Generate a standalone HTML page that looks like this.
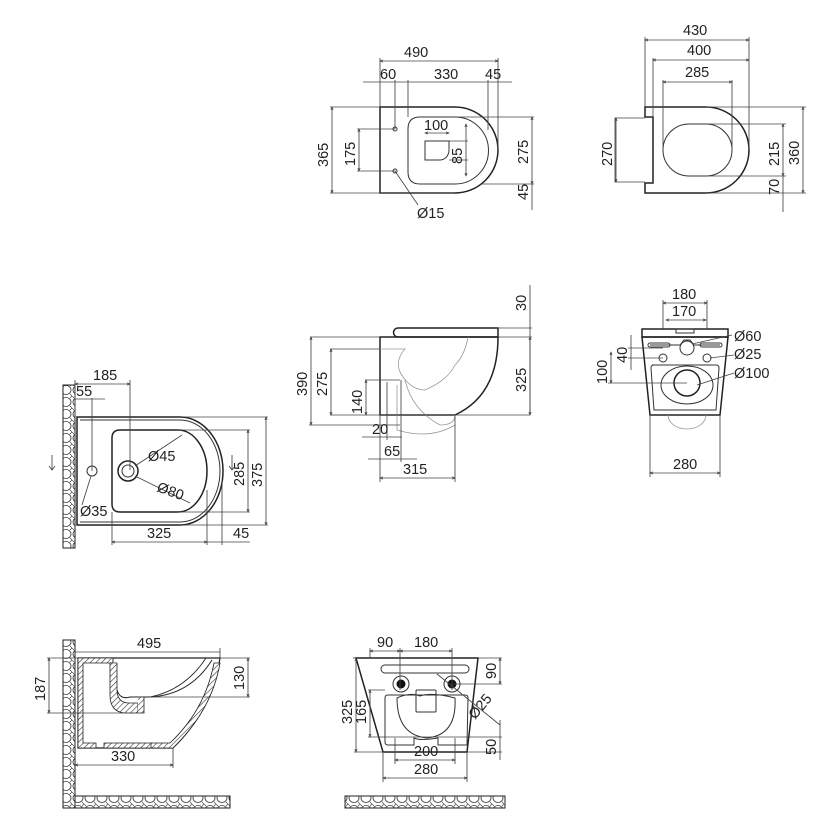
<!DOCTYPE html>
<html><head><meta charset="utf-8"><style>
html,body{margin:0;padding:0;background:#fff}
svg{display:block}
text{font-family:"Liberation Sans",sans-serif;font-size:14.5px;fill:#222}
.o{fill:none;stroke:#222;stroke-width:1.5}
.t{fill:none;stroke:#333;stroke-width:1}
.d{fill:none;stroke:#444;stroke-width:0.85}
.a{fill:none;stroke:#444;stroke-width:0.85;marker-start:url(#m);marker-end:url(#m)}
.g{fill:none;stroke:#999;stroke-width:0.8}
</style></head><body>
<svg width="833" height="837" viewBox="0 0 833 837" xmlns="http://www.w3.org/2000/svg">
<defs>
<marker id="m" viewBox="0 0 10 10" refX="5" refY="5" markerWidth="7" markerHeight="7" orient="auto-start-reverse"><path d="M0,3 L5,5 L0,7" fill="none" stroke="#333" stroke-width="1"/></marker>
<pattern id="h" width="12" height="12" patternUnits="userSpaceOnUse"><rect width="12" height="12" fill="#fff"/><ellipse cx="6" cy="6" rx="5" ry="4.5" fill="none" stroke="#333" stroke-width="0.8"/><path d="M0,0 L2,2 M12,12 L10,10 M12,0 L10,2" stroke="#333" stroke-width="0.6"/></pattern>
<pattern id="s" width="4" height="4" patternUnits="userSpaceOnUse" patternTransform="rotate(45)"><rect width="4" height="4" fill="#fff"/><line x1="0" y1="0" x2="0" y2="4" stroke="#333" stroke-width="1.2"/></pattern>
</defs>

<!-- ===== View 1: top plan ===== -->
<path class="o" d="M380,107 H455 A43,43 0 0 1 455,193 H380 Z"/>
<path class="t" d="M420,117 H455 A33.5,33.5 0 0 1 455,184 H420 Q408,184 408,172 V129 Q408,117 420,117 Z"/>
<path class="t" d="M425,141 H449 V150 A9,10 0 0 1 440,160 H425 Z"/>
<circle class="t" cx="395" cy="129" r="2"/><circle class="t" cx="395" cy="171" r="2"/>
<line class="d" x1="380" y1="58" x2="380" y2="107"/><line class="d" x1="498" y1="58" x2="498" y2="150"/>
<line class="a" x1="380" y1="61" x2="498" y2="61"/><text x="404" y="57">490</text>
<line class="d" x1="395" y1="80" x2="395" y2="129"/><line class="d" x1="408" y1="80" x2="408" y2="117"/><line class="d" x1="488" y1="80" x2="488" y2="130"/>
<line class="d" x1="363" y1="82" x2="512" y2="82"/><text x="380" y="79">60</text><text x="434" y="79">330</text><text x="485" y="79">45</text>
<line class="d" x1="330" y1="107" x2="380" y2="107"/><line class="d" x1="330" y1="193" x2="455" y2="193"/>
<line class="a" x1="332" y1="107" x2="332" y2="193"/><text transform="translate(328,167) rotate(-90)">365</text>
<line class="d" x1="357" y1="129" x2="395" y2="129"/><line class="d" x1="357" y1="171" x2="395" y2="171"/>
<line class="a" x1="359" y1="129" x2="359" y2="171"/><text transform="translate(355,166) rotate(-90)">175</text>
<line class="a" x1="425" y1="133" x2="449" y2="133"/><text x="424" y="130">100</text>
<line class="d" x1="449" y1="141" x2="468" y2="141"/><line class="d" x1="449" y1="160" x2="468" y2="160"/>
<line class="a" x1="466" y1="124" x2="466" y2="176"/><text transform="translate(462,164) rotate(-90)">85</text>
<line class="d" x1="455" y1="117" x2="534" y2="117"/><line class="d" x1="480" y1="184" x2="534" y2="184"/>
<line class="a" x1="532" y1="117" x2="532" y2="184"/><line class="d" x1="532" y1="184" x2="532" y2="210"/>
<text transform="translate(528,164) rotate(-90)">275</text><text transform="translate(528,200) rotate(-90)">45</text>
<line class="d" x1="395" y1="171" x2="418" y2="205"/><text x="417" y="218">Ø15</text>

<!-- ===== View 2: top plan right ===== -->
<path class="o" d="M645,107 H706 A43,43 0 0 1 706,193 H645 V183 H653 V117 H645 Z"/>
<rect class="t" x="663" y="124" width="69" height="52" rx="26" ry="26"/>
<line class="d" x1="645" y1="37" x2="645" y2="107"/><line class="d" x1="749" y1="37" x2="749" y2="150"/>
<line class="a" x1="645" y1="40" x2="749" y2="40"/><text x="683" y="35">430</text>
<line class="d" x1="653" y1="58" x2="653" y2="117"/>
<line class="a" x1="653" y1="60" x2="749" y2="60"/><text x="687" y="55">400</text>
<line class="d" x1="663" y1="80" x2="663" y2="150"/><line class="d" x1="732" y1="80" x2="732" y2="150"/>
<line class="a" x1="663" y1="82" x2="732" y2="82"/><text x="685" y="77">285</text>
<path class="d" d="M645,118 H615 V182 H645"/>
<line class="a" x1="616" y1="118" x2="616" y2="182"/><text transform="translate(612,166) rotate(-90)">270</text>
<line class="d" x1="706" y1="124" x2="786" y2="124"/><line class="d" x1="706" y1="176" x2="786" y2="176"/>
<line class="d" x1="706" y1="107" x2="806" y2="107"/><line class="d" x1="706" y1="193" x2="806" y2="193"/>
<line class="a" x1="783" y1="124" x2="783" y2="176"/><line class="d" x1="783" y1="176" x2="783" y2="212"/>
<text transform="translate(779,166) rotate(-90)">215</text><text transform="translate(779,195) rotate(-90)">70</text>
<line class="a" x1="803" y1="107" x2="803" y2="193"/><text transform="translate(799,165) rotate(-90)">360</text>

<!-- ===== View 3: side ===== -->
<path class="o" d="M398,328 H498 V337 H398 A4.5,4.5 0 0 1 398,328 Z"/>
<path class="o" d="M380,337 H498 Q498,395 455,415 H380 Z"/>
<path class="g" d="M380,349 H405 Q395,360 400,372 Q410,390 425,390 Q448,380 455,365 Q465,355 468,337"/>
<path class="g" d="M405,380 Q412,410 440,425 Q455,425 455,415 M397,385 V430 Q430,440 455,425"/>
<line class="d" x1="498" y1="328" x2="532" y2="328"/><line class="d" x1="498" y1="337" x2="532" y2="337"/>
<line class="d" x1="530" y1="285" x2="530" y2="415"/><text transform="translate(526,311) rotate(-90)">30</text>
<line class="a" x1="530" y1="337" x2="530" y2="415"/><text transform="translate(526,392) rotate(-90)">325</text>
<line class="d" x1="310" y1="337" x2="380" y2="337"/><line class="d" x1="309" y1="425" x2="400" y2="425"/>
<line class="a" x1="311" y1="337" x2="311" y2="425"/><text transform="translate(307,396) rotate(-90)">390</text>
<line class="d" x1="330" y1="349" x2="380" y2="349"/><line class="d" x1="330" y1="415" x2="530" y2="415"/>
<line class="a" x1="331" y1="349" x2="331" y2="415"/><text transform="translate(327,396) rotate(-90)">275</text>
<line class="d" x1="365" y1="380" x2="400" y2="380"/>
<line class="a" x1="366" y1="380" x2="366" y2="415"/><text transform="translate(362,414) rotate(-90)">140</text>
<line class="d" x1="380" y1="415" x2="380" y2="482"/><line class="d" x1="387" y1="382" x2="387" y2="440"/><line class="d" x1="401" y1="380" x2="401" y2="462"/><line class="d" x1="455" y1="415" x2="455" y2="482"/>
<line class="d" x1="362" y1="437" x2="402" y2="437"/><text x="372" y="434">20</text>
<line class="d" x1="368" y1="459" x2="417" y2="459"/><text x="384" y="456">65</text>
<line class="a" x1="380" y1="478" x2="455" y2="478"/><text x="403" y="474">315</text>

<!-- ===== View 4: front ===== -->
<path class="o" d="M642,329 H728 V337 H642 Z"/>
<rect class="t" x="676" y="329" width="18" height="4"/>
<path class="o" d="M642,337 H728 L720,415 H650 Z"/>
<path class="t" d="M650,345 H680 L684,340 H690 L694,345 H720"/>
<rect class="t" x="648" y="343" width="22" height="4" rx="2"/><rect class="t" x="700" y="343" width="22" height="4" rx="2"/>
<circle class="t" cx="687" cy="348" r="7"/>
<circle class="t" cx="663" cy="358" r="4"/><circle class="t" cx="707" cy="358" r="4"/>
<path class="t" d="M652,365 H716 Q719,365 719,368 L716,410 H654 L651,368 Q651,365 654,365 Z"/>
<ellipse class="t" cx="687" cy="385" rx="26" ry="19"/>
<circle class="o" cx="687" cy="383" r="13" stroke-width="2.5"/>
<path class="g" d="M668,415 A19,14 0 0 0 706,415"/>
<line class="d" x1="663" y1="300" x2="663" y2="330"/><line class="d" x1="707" y1="300" x2="707" y2="330"/>
<line class="a" x1="663" y1="303" x2="707" y2="303"/><text x="672" y="299">180</text>
<line class="a" x1="666" y1="320" x2="706" y2="320"/><text x="672" y="316">170</text>
<line class="d" x1="692" y1="344" x2="732" y2="335"/><text x="734" y="341">Ø60</text>
<line class="d" x1="710" y1="358" x2="734" y2="355"/><text x="734" y="359">Ø25</text>
<line class="d" x1="697" y1="385" x2="734" y2="373"/><text x="734" y="378">Ø100</text>
<line class="d" x1="628" y1="348" x2="663" y2="348"/><line class="d" x1="628" y1="358" x2="663" y2="358"/><line class="d" x1="608" y1="383" x2="687" y2="383"/>
<line class="d" x1="631" y1="335" x2="631" y2="370"/><text transform="translate(627,363) rotate(-90)">40</text>
<line class="a" x1="611" y1="352" x2="611" y2="383"/><text transform="translate(607,384) rotate(-90)">100</text>
<line class="d" x1="650" y1="415" x2="650" y2="477"/><line class="d" x1="720" y1="415" x2="720" y2="477"/>
<line class="a" x1="650" y1="473" x2="720" y2="473"/><text x="673" y="469">280</text>

<!-- ===== View 5: bidet plan ===== -->
<rect x="63" y="385" width="12" height="163" fill="url(#h)" stroke="#222" stroke-width="1"/>
<path class="o" d="M77,417 H180 A43,54 0 0 1 180,525 H77 Z"/>
<path class="t" d="M80,420 H180 A40,51 0 0 1 180,522 H80"/>
<path class="o" d="M120,430 H178 A29,41 0 0 1 178,512 H120 Q112,512 112,504 V438 Q112,430 120,430 Z"/>
<circle class="o" cx="128" cy="471" r="10"/><circle class="t" cx="128" cy="471" r="6"/>
<circle class="t" cx="92" cy="471" r="5"/>
<line class="d" x1="75" y1="380" x2="75" y2="417"/><line class="d" x1="130" y1="380" x2="130" y2="470"/>
<line class="a" x1="75" y1="384" x2="130" y2="384"/><text x="93" y="380">185</text>
<line class="d" x1="92" y1="398" x2="92" y2="471"/>
<line class="d" x1="75" y1="399" x2="105" y2="399"/><text x="76" y="396">55</text>
<path class="d" d="M52,455 V470 M49,466 L52,470 L55,466 M232,455 V470 M229,466 L232,470 L235,466"/>
<line class="d" x1="135" y1="466" x2="182" y2="435"/><text x="148" y="461">Ø45</text>
<line class="d" x1="135" y1="476" x2="190" y2="503"/><text x="156" y="491" transform="rotate(20,156,491)">Ø80</text>
<line class="d" x1="91" y1="476" x2="82" y2="505"/><text x="80" y="516">Ø35</text>
<line class="d" x1="180" y1="417" x2="268" y2="417"/><line class="d" x1="180" y1="525" x2="268" y2="525"/>
<line class="a" x1="266" y1="417" x2="266" y2="525"/><text transform="translate(262,487) rotate(-90)">375</text>
<line class="d" x1="178" y1="430" x2="250" y2="430"/><line class="d" x1="178" y1="512" x2="250" y2="512"/>
<line class="a" x1="248" y1="430" x2="248" y2="512"/><text transform="translate(244,486) rotate(-90)">285</text>
<line class="d" x1="112" y1="512" x2="112" y2="545"/><line class="d" x1="207" y1="490" x2="207" y2="545"/><line class="d" x1="222" y1="480" x2="222" y2="545"/>
<line class="a" x1="112" y1="542" x2="207" y2="542"/><text x="147" y="538">325</text>
<line class="d" x1="207" y1="542" x2="250" y2="542"/><text x="233" y="538">45</text>

<!-- ===== View 6: bidet side section ===== -->
<rect x="63" y="640" width="12" height="168" fill="url(#h)" stroke="#222" stroke-width="1"/>
<rect x="75" y="796" width="155" height="12" fill="url(#h)" stroke="#222" stroke-width="1"/>
<path d="M78,658 H220 Q212,710 173,748 H78 Z" fill="none" stroke="#222" stroke-width="1.2"/>
<path d="M78,658 H113 V663 H83 V743 H96 V748 H78 Z" fill="url(#s)" stroke="#222" stroke-width="0.8"/>
<path d="M104,743 H152 V748 H104 Z" fill="url(#s)" stroke="#222" stroke-width="0.8"/>
<path d="M151,743 H170 Q205,710 214,663 H220 Q212,710 173,748 H151 Z" fill="url(#s)" stroke="#222" stroke-width="0.8"/>
<path d="M113,658 V663 H110 V695 Q110,712 125,713 H138 V703 H128 Q117,702 117,690 V663 H114" fill="url(#s)" stroke="#222" stroke-width="0.8"/>
<path d="M117,690 Q120,700 130,697 H150 Q190,695 212,660" fill="none" stroke="#222" stroke-width="1"/>
<path d="M150,697 Q185,690 206,658" fill="none" stroke="#222" stroke-width="0.8"/>
<path d="M138,697 H144 V713 H138" fill="url(#s)" stroke="#222" stroke-width="0.8"/>
<line class="d" x1="75" y1="652" x2="220" y2="652"/><line class="d" x1="220" y1="648" x2="220" y2="658"/><text x="137" y="648">495</text>
<line class="d" x1="47" y1="658" x2="78" y2="658"/><line class="d" x1="47" y1="713" x2="135" y2="713"/>
<line class="a" x1="49" y1="658" x2="49" y2="713"/><text transform="translate(45,701) rotate(-90)">187</text>
<line class="d" x1="220" y1="658" x2="250" y2="658"/><line class="d" x1="150" y1="697" x2="250" y2="697"/>
<line class="a" x1="248" y1="658" x2="248" y2="697"/><text transform="translate(244,690) rotate(-90)">130</text>
<line class="d" x1="173" y1="748" x2="173" y2="768"/>
<line class="a" x1="75" y1="765" x2="173" y2="765"/><text x="111" y="761">330</text>

<!-- ===== View 7: bidet front ===== -->
<path class="o" d="M356,658 H478 L467,752 H383 Z"/>
<rect class="t" x="381" y="665" width="88" height="8" rx="4"/>
<circle class="t" cx="401" cy="684" r="8"/><circle cx="401" cy="684" r="4.5" fill="#111"/>
<circle class="t" cx="452" cy="684" r="8"/><circle cx="452" cy="684" r="4.5" fill="#111"/>
<path class="t" d="M388,695 H465 Q468,695 468,698 L467,745 H438 V738 Q420,741 414,738 V745 H388 Q385,745 385,742 V698 Q385,695 388,695 Z"/>
<path class="t" d="M397,698 Q410,692 420,696 Q432,692 455,698 Q457,735 427,738 Q397,735 397,698 Z"/>
<rect class="t" x="416" y="690" width="20" height="22" rx="1"/>
<rect x="345" y="796" width="160" height="12" fill="url(#h)" stroke="#222" stroke-width="1"/>
<line class="d" x1="370" y1="648" x2="370" y2="658"/><line class="d" x1="400" y1="648" x2="400" y2="690"/><line class="d" x1="452" y1="648" x2="452" y2="690"/>
<line class="a" x1="370" y1="651" x2="400" y2="651"/><text x="377" y="647">90</text>
<line class="a" x1="400" y1="651" x2="452" y2="651"/><text x="414" y="647">180</text>
<line class="d" x1="478" y1="658" x2="502" y2="658"/><line class="d" x1="452" y1="684" x2="502" y2="684"/>
<line class="a" x1="500" y1="658" x2="500" y2="684"/><text transform="translate(496,679) rotate(-90)">90</text>
<line class="d" x1="437" y1="674" x2="500" y2="725"/><text x="475" y="720" transform="rotate(-50,475,720)">Ø25</text>
<line class="d" x1="353" y1="658" x2="356" y2="658"/><line class="d" x1="354" y1="752" x2="383" y2="752"/>
<line class="a" x1="356" y1="658" x2="356" y2="752"/><text transform="translate(352,724) rotate(-90)">325</text>
<line class="d" x1="368" y1="690" x2="385" y2="690"/><line class="d" x1="368" y1="737" x2="502" y2="737"/>
<line class="a" x1="370" y1="690" x2="370" y2="737"/><text transform="translate(366,724) rotate(-90)">165</text>
<line class="d" x1="467" y1="752" x2="502" y2="752"/>
<line class="d" x1="500" y1="720" x2="500" y2="760"/><text transform="translate(496,755) rotate(-90)">50</text>
<line class="d" x1="395" y1="738" x2="395" y2="764"/><line class="d" x1="455" y1="738" x2="455" y2="764"/>
<line class="a" x1="395" y1="760" x2="455" y2="760"/><text x="414" y="756">200</text>
<line class="d" x1="383" y1="752" x2="383" y2="782"/><line class="d" x1="467" y1="752" x2="467" y2="782"/>
<line class="a" x1="383" y1="778" x2="467" y2="778"/><text x="414" y="774">280</text>
</svg>
</body></html>
